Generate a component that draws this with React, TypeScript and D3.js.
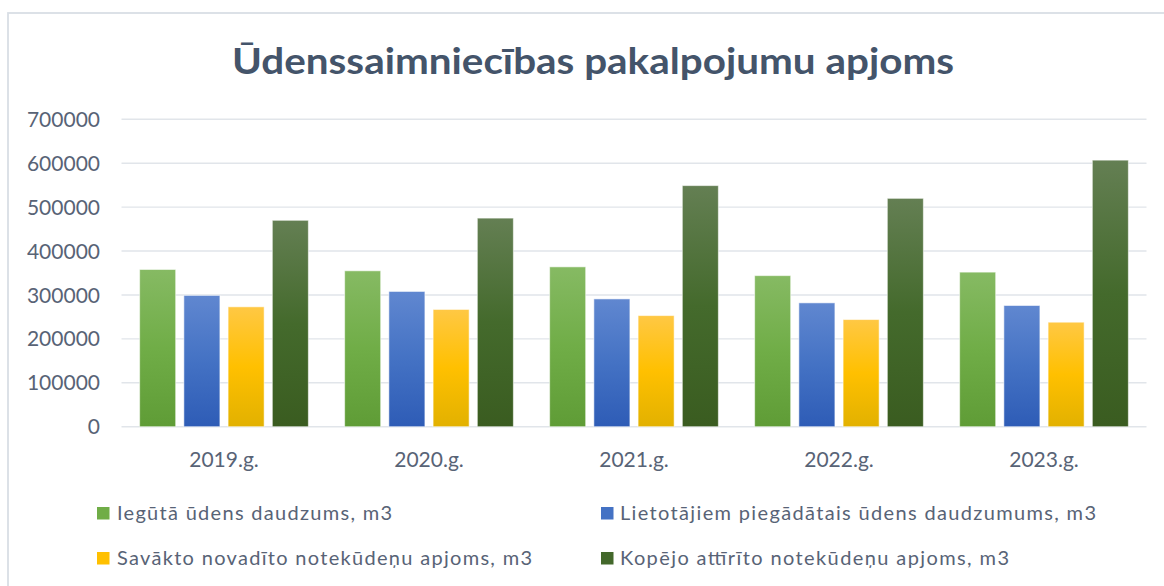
import React from "react";
import * as d3 from "d3";

const categories = ["2019.g.", "2020.g.", "2021.g.", "2022.g.", "2023.g."];
const seriesNames = [
  "Iegūtā ūdens daudzums, m3",
  "Lietotājiem piegādātais ūdens daudzumums, m3",
  "Savākto novadīto notekūdeņu apjoms, m3",
  "Kopējo attīrīto notekūdeņu apjoms, m3",
];
const iegutais = [358000, 355000, 364000, 344000, 352000];
const piegadatais = [299000, 308000, 291000, 282000, 276000];
const savaktais = [273000, 267000, 253000, 244000, 238000];
const attiritais = [470000, 475000, 549000, 520000, 607000];
const yTicks = [0, 100000, 200000, 300000, 400000, 500000, 600000, 700000];
const title = "Ūdenssaimniecības pakalpojumu apjoms";

const seriesValues = [iegutais, piegadatais, savaktais, attiritais];
const seriesColors = [
  { top: "#86ba63", mid: "#70ad47", bot: "#5f9c36", solid: "#70ad47" },
  { top: "#6087d0", mid: "#4472c4", bot: "#2e5cb6", solid: "#4472c4" },
  { top: "#ffc844", mid: "#ffc000", bot: "#e2b100", solid: "#ffc000" },
  { top: "#647f53", mid: "#446a2c", bot: "#3a5c20", solid: "#43682b" },
];

const W = 1164;
const H = 586;
const FONT = "Lato, 'Open Sans', sans-serif";
const LABEL = "#586376";

export default function App() {
  const y = d3.scaleLinear().domain([0, 700000]).range([426.7, 119.3]);
  const x0 = d3
    .scaleBand<string>()
    .domain(categories)
    .range([121.5, 1146.5])
    .paddingInner(0.177)
    .paddingOuter(0.0885);
  const x1 = d3
    .scaleBand<number>()
    .domain(d3.range(seriesNames.length))
    .range([0, x0.bandwidth()])
    .paddingInner(0.185);

  const legendPos = [
    { mx: 97, tx: 117, y: 513, w: 275 },
    { mx: 601, tx: 620, y: 513, w: 476 },
    { mx: 97, tx: 117, y: 558, w: 415 },
    { mx: 601, tx: 620, y: 558, w: 389 },
  ];

  return (
    <svg
      width={W}
      height={H}
      style={{ position: "absolute", left: 0, top: 0, background: "#fff" }}
      fontFamily={FONT}
    >
      <defs>
        {seriesColors.map((c, i) => (
          <linearGradient key={i} id={`g${i}`} x1="0" y1="0" x2="0" y2="1">
            <stop offset="0" stopColor={c.top} />
            <stop offset="0.5" stopColor={c.mid} />
            <stop offset="1" stopColor={c.bot} />
          </linearGradient>
        ))}
      </defs>
      <rect x={0} y={0} width={W} height={H} fill="#fff" />
      <rect
        x={8}
        y={13}
        width={W + 20}
        height={H + 20}
        fill="none"
        stroke="#d9dee5"
        strokeWidth={1.8}
      />
      <text
        x={593}
        y={73.5}
        textAnchor="middle"
        fontSize={37}
        fontWeight={700}
        fill="#44546a"
        textLength={722}
        lengthAdjust="spacingAndGlyphs"
      >
        {title}
      </text>
      {yTicks.map((t) => (
        <line
          key={t}
          x1={121.5}
          x2={1146.5}
          y1={y(t)}
          y2={y(t)}
          stroke="#e1e5ea"
          strokeWidth={1.4}
        />
      ))}
      {yTicks.map((t) => (
        <text
          key={t}
          x={100}
          y={y(t)}
          dy="0.36em"
          textAnchor="end"
          fontSize={21}
          fill={LABEL}
        >
          {t}
        </text>
      ))}
      {categories.map((c, ci) => (
        <g key={c} transform={`translate(${x0(c)},0)`}>
          {seriesValues.map((vals, si) => (
            <rect
              key={si}
              x={x1(si)}
              y={y(vals[ci])}
              width={x1.bandwidth()}
              height={y(0) - y(vals[ci])}
              fill={`url(#g${si})`}
              stroke="#ffffff"
              strokeOpacity={0.55}
              strokeWidth={1}
            />
          ))}
        </g>
      ))}
      {categories.map((c) => (
        <text
          key={c}
          x={(x0(c) as number) + x0.bandwidth() / 2}
          y={466.5}
          textAnchor="middle"
          fontSize={21}
          fill={LABEL}
        >
          {c}
        </text>
      ))}
      {seriesNames.map((n, i) => (
        <g key={n}>
          <rect
            x={legendPos[i].mx}
            y={legendPos[i].y - 6}
            width={12.5}
            height={12.5}
            fill={seriesColors[i].solid}
          />
          <text
            x={legendPos[i].tx}
            y={legendPos[i].y}
            dy="0.36em"
            fontSize={20}
            fill={LABEL}
            textLength={legendPos[i].w}
            lengthAdjust="spacing"
          >
            {n}
          </text>
        </g>
      ))}
    </svg>
  );
}
